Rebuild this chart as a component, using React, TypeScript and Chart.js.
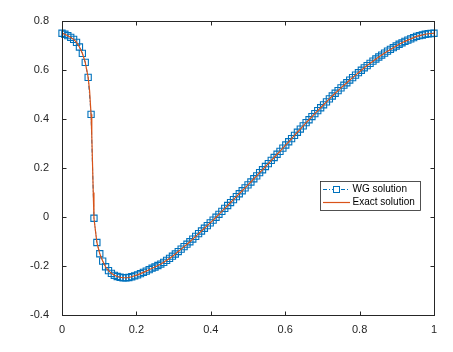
import React, { useEffect, useRef } from "react";
import { Chart, registerables } from "chart.js";

Chart.register(...registerables);

// x positions (i/128) and values
const N = 128;
const xValues: number[] = Array.from({ length: N + 1 }, (_, i) => i / N);

const wgValues: number[] = [
  0.75, 0.746, 0.74, 0.733, 0.725, 0.713, 0.694, 0.668, 0.631, 0.57,
  0.419, -0.005, -0.104, -0.15, -0.18, -0.203, -0.219, -0.23, -0.238, -0.243,
  -0.246, -0.248, -0.248, -0.247, -0.244, -0.24, -0.236, -0.231, -0.226, -0.221,
  -0.215, -0.209, -0.204, -0.198, -0.192, -0.185, -0.177, -0.169, -0.16, -0.151,
  -0.141, -0.131, -0.121, -0.111, -0.101, -0.09, -0.079, -0.068, -0.057, -0.046,
  -0.035, -0.024, -0.013, -0.001, 0.011, 0.023, 0.035, 0.047, 0.059, 0.071,
  0.083, 0.095, 0.107, 0.119, 0.131, 0.143, 0.156, 0.168, 0.181, 0.193,
  0.206, 0.218, 0.231, 0.243, 0.256, 0.268, 0.281, 0.294, 0.307, 0.32,
  0.333, 0.346, 0.359, 0.372, 0.385, 0.397, 0.41, 0.422, 0.434, 0.446,
  0.458, 0.47, 0.482, 0.494, 0.505, 0.516, 0.527, 0.538, 0.548, 0.559,
  0.569, 0.579, 0.589, 0.599, 0.609, 0.618, 0.627, 0.636, 0.645, 0.653,
  0.661, 0.669, 0.677, 0.684, 0.691, 0.698, 0.705, 0.711, 0.717, 0.722,
  0.727, 0.732, 0.737, 0.74, 0.743, 0.746, 0.748, 0.749, 0.75,
];

// exact solution, same points plus a few inside the steep layer
const exactX: number[] = [
  0, 0.0078, 0.0156, 0.0234, 0.0313, 0.0391, 0.0469, 0.0547, 0.0625, 0.0703,
  0.0742, 0.0781, 0.0801, 0.082, 0.084, 0.0859,
];
const exactYHead: number[] = [
  0.75, 0.746, 0.74, 0.733, 0.725, 0.713, 0.694, 0.668, 0.631, 0.57,
  0.515, 0.419, 0.33, 0.22, 0.1, -0.005,
];

const xTicks: number[] = [0, 0.2, 0.4, 0.6, 0.8, 1];
const yTicks: number[] = [-0.4, -0.2, 0, 0.2, 0.4, 0.6, 0.8];

const seriesLabels: string[] = ["WG solution", "Exact solution"];

const BLUE = "#0072BD";
const RED = "#D95319";
const AXIS = "#262626";
const FONT = "'Liberation Sans', Arial, Helvetica, sans-serif";

const fmt = (v: number) => String(Math.round(v * 10) / 10);

const boxPlugin = {
  id: "matlabBox",
  afterDraw(chart: any) {
    const { ctx, chartArea } = chart;
    const { left, right, top, bottom } = chartArea;
    const L = Math.round(left) + 0.5;
    const R = Math.round(right) + 0.5;
    const T = Math.round(top) + 0.5;
    const B = Math.round(bottom) + 0.5;
    ctx.save();
    ctx.strokeStyle = AXIS;
    ctx.lineWidth = 1;
    ctx.strokeRect(L, T, R - L, B - T);
    const tl = 4;
    const xs = chart.scales.x;
    const ys = chart.scales.y;
    ctx.beginPath();
    xTicks.forEach((v) => {
      const px = Math.round(xs.getPixelForValue(v)) + 0.5;
      ctx.moveTo(px, B);
      ctx.lineTo(px, B - tl);
      ctx.moveTo(px, T);
      ctx.lineTo(px, T + tl);
    });
    yTicks.forEach((v) => {
      const py = Math.round(ys.getPixelForValue(v)) + 0.5;
      ctx.moveTo(L, py);
      ctx.lineTo(L + tl, py);
      ctx.moveTo(R, py);
      ctx.lineTo(R - tl, py);
    });
    ctx.stroke();

    // legend box
    const lx = 320.5, ly = 181.5, lw = 100, lh = 29;
    ctx.fillStyle = "#ffffff";
    ctx.fillRect(lx, ly, lw, lh);
    ctx.strokeStyle = AXIS;
    ctx.lineWidth = 0.8;
    ctx.strokeRect(lx, ly, lw, lh);

    // WG entry
    const y1 = 189.5;
    ctx.strokeStyle = BLUE;
    ctx.lineWidth = 1;
    ctx.setLineDash([4, 2, 1, 2]);
    ctx.beginPath();
    ctx.moveTo(323, y1);
    ctx.lineTo(350, y1);
    ctx.stroke();
    ctx.setLineDash([]);
    ctx.fillStyle = "#ffffff";
    ctx.fillRect(333.5, y1 - 3, 6, 6);
    ctx.strokeRect(333.5, y1 - 3, 6, 6);

    // Exact entry
    const y2 = 202.5;
    ctx.strokeStyle = RED;
    ctx.lineWidth = 1.2;
    ctx.beginPath();
    ctx.moveTo(323, y2);
    ctx.lineTo(350, y2);
    ctx.stroke();

    ctx.fillStyle = "#000000";
    ctx.font = `10px ${FONT}`;
    ctx.textBaseline = "middle";
    ctx.textAlign = "left";
    ctx.fillText(seriesLabels[0], 352.5, y1);
    ctx.fillText(seriesLabels[1], 352.5, y2);
    ctx.restore();
  },
};

export default function App() {
  const ref = useRef<HTMLCanvasElement | null>(null);

  useEffect(() => {
    if (!ref.current) return;
    const wgData = xValues.map((x, i) => ({ x, y: wgValues[i] }));
    const exactData = [
      ...exactX.map((x, i) => ({ x, y: exactYHead[i] })),
      ...xValues.slice(12).map((x, i) => ({ x, y: wgValues[i + 12] })),
    ];
    const chart = new Chart(ref.current, {
      type: "line",
      data: {
        datasets: [
          {
            label: seriesLabels[0],
            data: wgData,
            borderColor: BLUE,
            backgroundColor: "rgba(0,0,0,0)",
            borderWidth: 1,
            borderDash: [4, 2, 1, 2],
            pointStyle: "rect",
            pointRadius: 4.4,
            pointBorderWidth: 1.1,
            pointBorderColor: BLUE,
            pointBackgroundColor: "rgba(0,0,0,0)",
            tension: 0,
            clip: false,
            order: 2,
          } as any,
          {
            label: seriesLabels[1],
            data: exactData,
            borderColor: RED,
            backgroundColor: RED,
            borderWidth: 1.2,
            pointRadius: 0,
            tension: 0,
            clip: false,
            order: 1,
          } as any,
        ],
      },
      options: {
        responsive: false,
        animation: false,
        devicePixelRatio: 1,
        parsing: false as any,
        layout: { padding: { left: 0, top: 21, right: 19, bottom: 0 } },
        plugins: {
          legend: { display: false },
          tooltip: { enabled: false },
        },
        scales: {
          x: {
            type: "linear",
            min: 0,
            max: 1,
            grid: { display: false },
            border: { display: false },
            afterBuildTicks: (s: any) => {
              s.ticks = xTicks.map((v) => ({ value: v }));
            },
            afterFit: (s: any) => {
              s.height = 37;
            },
            ticks: {
              padding: 0,
              maxRotation: 0,
              color: AXIS,
              font: { family: FONT, size: 11 },
              callback: (v: any) => fmt(Number(v)),
            },
          },
          y: {
            type: "linear",
            min: -0.4,
            max: 0.8,
            grid: { display: false },
            border: { display: false },
            afterBuildTicks: (s: any) => {
              s.ticks = yTicks.map((v) => ({ value: v }));
            },
            afterFit: (s: any) => {
              s.width = 62;
            },
            ticks: {
              padding: 5,
              color: AXIS,
              font: { family: FONT, size: 11 },
              callback: (v: any) => fmt(Number(v)),
            },
          },
        },
      },
      plugins: [boxPlugin],
    });
    return () => chart.destroy();
  }, []);

  return (
    <div style={{ position: "fixed", left: 0, top: 0, width: 453, height: 352, background: "#fff" }}>
      <canvas ref={ref} width={453} height={352} style={{ display: "block" }} />
    </div>
  );
}
